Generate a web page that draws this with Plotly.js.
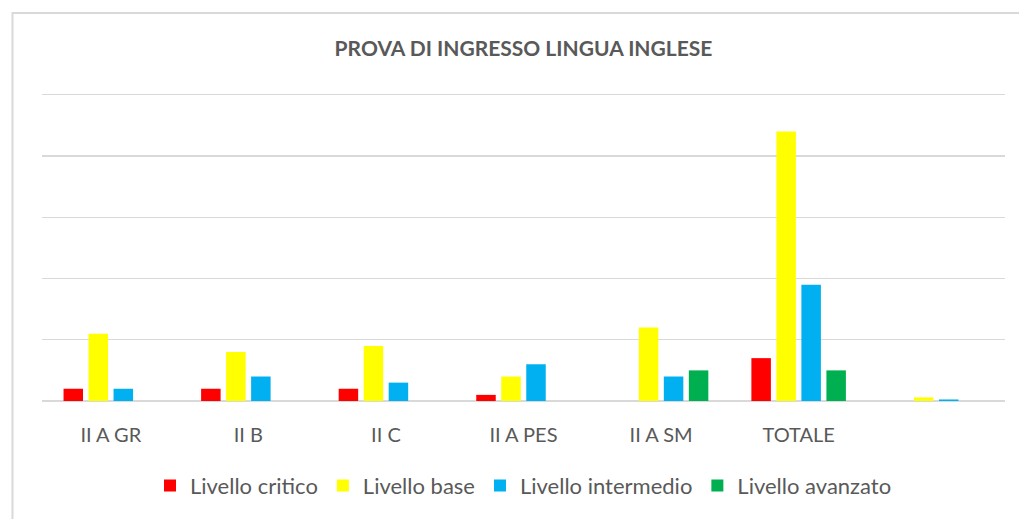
<!DOCTYPE html>
<html>
<head>
<meta charset="utf-8">
<script src="https://cdn.plot.ly/plotly-3.0.1.min.js"></script>
<style>
html,body{margin:0;padding:0;background:#fff;}
#chart{width:1019px;height:519px;}
</style>
</head>
<body>
<div id="chart"></div>
<script>
const categories = ["II A GR", "II B", "II C", "II A PES", "II A SM", "TOTALE", " "];
const critico    = [2, 2, 2, 1, 0, 7, null];
const base       = [11, 8, 9, 4, 12, 44, 0.59];
const intermedio = [2, 4, 3, 6, 4, 19, 0.25];
const avanzato   = [0, 0, 0, 0, 5, 5, null];
const seriesNames = ["Livello critico", "Livello base", "Livello intermedio", "Livello avanzato"];
const seriesColors = ["#FF0000", "#FFFF00", "#00B0F0", "#00B050"];
const seriesData = [critico, base, intermedio, avanzato];

const traces = seriesData.map((vals, i) => ({
  type: "bar",
  x: categories,
  y: vals,
  name: seriesNames[i],
  marker: {color: seriesColors[i]},
  hoverinfo: "x+y+name"
}));

const gray = "#595959";
const fam = "Lato, Open Sans, Liberation Sans, sans-serif";
const layout = {
  width: 1019,
  height: 519,
  margin: {l: 42, r: 14, t: 93, b: 116, pad: 0},
  paper_bgcolor: "#ffffff",
  plot_bgcolor: "#ffffff",
  font: {family: fam, color: gray},
  title: {
    text: "<b>PROVA DI INGRESSO LINGUA INGLESE</b>",
    font: {size: 21, color: gray, family: fam},
    x: 0.5, xref: "paper", xanchor: "center",
    y: 0.907, yref: "container", yanchor: "middle"
  },
  barmode: "group",
  bargap: 0.273,
  bargroupgap: 0.22,
  xaxis: {
    type: "category",
    showgrid: false,
    zeroline: false,
    showline: false,
    ticks: "",
    ticklabelstandoff: 20,
    tickfont: {size: 20, color: gray, family: fam},
    automargin: false
  },
  yaxis: {
    range: [0, 50.3],
    tickvals: [0, 10, 20, 30, 40, 50],
    showgrid: true,
    gridcolor: "#d9d9d9",
    gridwidth: 1.3,
    zeroline: true,
    zerolinecolor: "#d9d9d9",
    zerolinewidth: 1.3,
    showticklabels: false,
    ticks: "",
    automargin: false
  },
  showlegend: true,
  legend: {
    orientation: "h",
    x: 0.5, xanchor: "center",
    y: -0.275, yanchor: "middle",
    font: {size: 22, color: gray, family: fam},
    itemwidth: 30,
    traceorder: "normal"
  },
  shapes: [{
    type: "rect",
    xref: "paper", yref: "paper",
    x0: (12.5 - 42) / 963, x1: 1.1,
    y0: -0.5, y1: (403 - 12.5) / 310,
    line: {color: "#d9d9d9", width: 2},
    fillcolor: "rgba(0,0,0,0)",
    layer: "below"
  }]
};

Plotly.newPlot("chart", traces, layout, {displayModeBar: false, staticPlot: true});
</script>
</body>
</html>
